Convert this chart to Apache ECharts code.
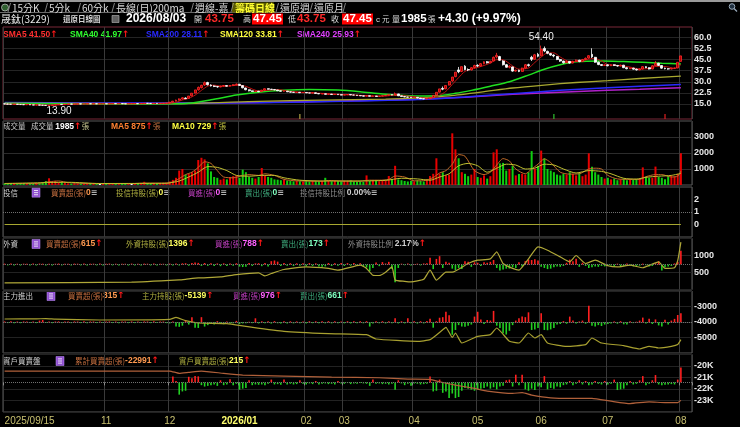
<!DOCTYPE html>
<html><head><meta charset="utf-8">
<script src="https://cdn.jsdelivr.net/npm/echarts@6/dist/echarts.min.js"></script>
<style>html,body{margin:0;padding:0;background:#000;}#c{width:740px;height:427px;}</style>
</head><body><div id="c"></div>
<script>
// ---------- calendar (trading days) ----------
const holidays = ['2025-10-06','2025-10-10','2025-10-24','2025-12-25','2026-01-01','2026-02-12','2026-02-13',
 '2026-02-16','2026-02-17','2026-02-18','2026-02-19','2026-02-20','2026-02-27','2026-04-03','2026-04-06','2026-05-01','2026-06-19'];
const firstDay = '2025-09-15', lastDay = '2026-08-03';

// ---------- price [open, close, low, high] ----------
const candles = [
[15.1,15.0,14.9,15.2],[15.0,14.9,14.8,15.1],[14.9,14.8,14.7,15.0],[14.8,14.9,14.7,15.0],[14.9,14.7,14.6,14.9],[14.7,14.6,14.5,14.8],[14.6,14.5,14.4,14.7],[14.5,14.6,14.4,14.7],[14.6,14.4,14.3,14.6],[14.4,14.3,14.2,14.5],
[14.3,14.4,14.2,14.5],[14.4,14.2,14.1,14.4],[14.2,14.1,14.0,14.3],[14.1,14.0,13.95,14.2],[14.0,14.1,13.9,14.2],[14.1,14.3,14.0,14.4],[14.3,14.6,14.2,14.7],[14.6,14.8,14.5,14.9],[14.8,14.7,14.6,14.9],[14.7,14.9,14.6,15.0],
[14.9,15.0,14.8,15.1],[15.0,14.9,14.8,15.1],[14.9,15.0,14.8,15.1],[15.0,15.1,14.9,15.2],[15.1,15.0,14.9,15.2],[15.0,15.1,14.9,15.2],[15.1,15.2,15.0,15.3],[15.2,15.1,15.0,15.3],[15.1,15.2,15.0,15.3],[15.2,15.1,15.0,15.3],
[15.1,15.1,15.0,15.2],[15.1,15.2,15.0,15.3],[15.2,15.1,15.0,15.3],[15.1,15.2,15.0,15.3],[15.2,15.3,15.1,15.4],[15.3,15.2,15.1,15.4],[15.2,15.3,15.1,15.4],[15.3,15.2,15.1,15.4],[15.2,15.1,15.0,15.3],[15.1,15.2,15.0,15.3],
[15.2,15.2,15.1,15.3],[15.2,15.3,15.1,15.4],[15.3,15.2,15.1,15.4],[15.2,15.3,15.1,15.4],[15.3,15.5,15.2,15.6],[15.5,15.4,15.3,15.6],[15.4,15.3,15.2,15.5],[15.3,15.4,15.2,15.5],[15.4,15.3,15.2,15.5],[15.3,15.4,15.2,15.5],
[15.4,15.5,15.3,15.6],[15.5,15.6,15.4,15.7],[15.6,16.2,15.5,16.4],[16.2,16.9,16.0,17.1],[16.9,17.6,16.8,17.9],[17.6,18.4,17.4,18.8],[18.4,19.2,18.1,19.6],[19.0,18.6,18.3,19.5],[18.8,20.4,18.6,20.4],[20.5,22.3,20.2,22.4],
[22.4,24.5,22.2,24.5],[24.6,26.2,24.0,26.8],[26.0,27.6,25.5,28.0],[27.8,29.4,27.2,30.2],[29.5,28.0,27.5,30.0],[27.8,27.2,26.8,28.3],[27.2,26.8,26.4,27.6],[26.8,26.5,26.0,27.2],[26.5,27.0,26.3,27.3],[27.0,27.4,26.8,27.8],
[27.4,27.0,26.8,27.6],[27.0,27.5,26.9,27.8],[27.5,28.0,27.3,28.4],[28.0,28.4,27.6,28.8],[28.3,27.5,27.2,28.6],[27.4,25.9,25.6,27.5],[25.8,24.6,24.3,26.0],[24.6,23.9,23.5,24.8],[23.9,23.4,23.1,24.1],[23.4,23.7,23.2,23.9],
[23.7,23.3,23.0,23.8],[23.4,24.3,23.3,24.6],[24.3,25.3,24.2,25.6],[25.3,25.0,24.8,25.5],[25.0,24.8,24.6,25.2],[24.8,24.5,24.3,25.0],[24.5,23.9,23.8,24.6],[23.9,23.6,23.4,24.0],[23.6,23.7,23.4,23.9],[23.7,23.2,23.1,23.8],
[23.2,23.0,22.8,23.3],[23.0,22.8,22.6,23.1],[22.8,22.9,22.7,23.1],[22.9,22.6,22.5,23.0],[22.6,22.8,22.5,22.9],[22.8,22.5,22.4,22.9],[22.5,22.4,22.3,22.6],[22.4,22.6,22.3,22.7],[22.6,22.1,22.0,22.7],[22.1,21.8,21.7,22.2],
[21.8,21.9,21.7,22.0],[21.9,21.5,21.4,22.0],[21.5,21.7,21.4,21.8],[21.7,21.4,21.3,21.8],[21.4,21.6,21.3,21.7],[21.6,21.3,21.2,21.7],[21.3,21.0,20.9,21.4],[21.0,21.2,20.9,21.3],[21.2,21.4,21.1,21.5],[21.4,21.1,21.0,21.5],
[21.1,21.0,20.9,21.2],[21.0,20.7,20.6,21.1],[20.7,20.5,20.4,20.8],[20.5,20.3,20.2,20.6],[20.3,20.6,20.2,20.9],[20.6,20.2,20.1,20.7],[20.2,20.4,20.1,20.5],[20.4,20.1,20.0,20.5],[20.1,20.3,20.0,20.4],[20.3,20.6,20.2,20.7],
[20.6,20.9,20.5,21.0],[20.9,21.3,20.8,21.5],[21.3,21.0,20.9,21.4],[21.0,21.8,20.9,22.8],[21.8,20.5,20.4,21.9],[20.5,20.0,19.9,20.6],[20.0,19.7,19.6,20.1],[19.7,19.6,19.5,19.8],[19.6,19.3,19.2,19.7],[19.3,19.5,19.2,19.6],
[19.5,19.0,18.9,19.6],[19.0,18.6,18.5,19.1],[18.6,18.4,18.3,18.7],[18.4,18.7,18.3,18.8],[18.7,19.3,18.6,19.5],[19.3,20.8,19.2,20.9],[20.9,22.9,20.8,22.9],[23.0,25.2,22.8,25.2],[25.5,25.0,24.3,26.8],[25.2,27.5,25.0,27.5],
[27.8,30.2,27.5,30.2],[30.5,33.2,30.0,33.2],[33.5,36.5,33.0,36.5],[38.0,36.8,35.8,40.0],[37.0,40.2,36.5,40.4],[40.5,38.2,37.8,41.2],[38.2,38.0,37.2,39.0],[38.0,39.5,37.6,39.8],[39.6,41.0,39.0,41.5],[41.0,40.6,40.0,41.8],
[40.6,42.2,40.2,42.5],[42.2,43.5,41.8,43.8],[43.5,42.8,42.3,44.0],[42.8,43.8,42.5,44.2],[44.0,46.5,43.8,47.0],[46.8,47.8,45.8,49.5],[47.0,44.5,44.0,47.5],[44.0,41.5,41.0,44.5],[41.5,39.8,39.5,42.0],[39.8,40.5,39.0,41.2],
[40.0,37.2,36.8,40.2],[37.2,37.8,36.8,38.2],[37.8,37.0,36.5,38.2],[37.0,39.2,36.8,39.5],[39.2,41.5,39.0,42.0],[41.5,41.0,40.2,42.2],[46.5,45.2,44.0,47.5],[45.2,48.2,45.0,48.8],[48.5,47.2,46.5,49.5],[47.5,52.0,47.2,54.4],
[52.5,50.8,50.0,53.8],[50.5,49.2,48.6,51.0],[49.0,48.0,47.5,49.5],[48.0,47.4,46.5,48.6],[47.0,45.0,44.6,47.4],[45.0,44.0,43.4,45.5],[44.0,42.8,42.3,44.2],[42.8,43.8,42.6,44.2],[43.8,42.6,42.2,44.0],[42.6,43.8,42.4,44.2],
[43.8,44.6,43.4,45.0],[44.6,43.6,43.2,44.8],[43.6,45.0,43.4,45.4],[45.0,45.8,44.6,46.4],[46.0,47.6,45.6,48.0],[48.5,46.8,46.0,52.6],[46.5,43.2,42.8,46.8],[43.2,41.6,41.2,43.6],[41.6,41.0,40.6,41.8],[41.0,41.4,40.6,41.8],
[41.4,40.8,40.4,41.6],[40.8,41.5,40.6,41.8],[41.5,41.0,40.6,41.8],[41.0,40.6,40.2,41.2],[40.6,41.2,40.4,41.6],[41.2,39.5,39.2,41.4],[39.5,38.8,38.4,39.8],[38.8,39.2,38.6,39.6],[39.2,38.5,38.2,39.4],[38.5,38.0,37.6,38.8],
[38.0,38.6,37.8,39.0],[38.6,40.2,38.4,40.6],[40.2,39.5,39.2,40.5],[39.5,38.6,38.3,39.8],[38.6,40.8,38.5,41.2],[40.8,42.5,40.6,44.0],[42.5,41.0,40.6,42.8],[41.0,39.2,38.8,41.2],[39.2,38.8,38.4,39.5],[38.8,38.6,38.2,39.2],
[38.6,39.1,38.4,39.4],[39.1,39.2,38.8,39.6],[39.3,43.15,39.2,43.15],[43.75,47.45,43.75,47.45]
];

// moving averages of price, read as [day index, value]
const sma5 = [[0,15.0],[4,14.86],[10,14.5],[14,14.2],[18,14.5],[22,14.9],[30,15.1],[40,15.2],[50,15.4],[52,15.5],[54,16.2],[56,17.7],[58,18.8],[60,21.0],[62,24.2],[64,27.1],[66,27.7],[68,27.1],[70,27.1],[72,27.4],[74,27.7],[76,26.9],[78,25.1],[80,23.8],[83,24.3],[86,24.7],[90,23.5],[95,22.7],[100,22.2],[105,21.5],[110,21.1],[115,20.5],[120,20.4],[123,21.0],[126,20.6],[130,19.6],[133,18.9],[135,19.2],[137,20.9],[139,23.5],[141,28.2],[143,32.8],[145,37.0],[147,38.5],[150,40.3],[153,42.6],[155,44.9],[157,44.8],[160,40.7],[162,38.5],[165,39.3],[167,43.0],[169,46.7],[171,49.5],[173,49.5],[175,46.7],[178,43.6],[181,43.7],[184,45.3],[186,45.7],[188,44.0],[190,41.6],[194,40.9],[197,39.9],[200,38.6],[203,39.0],[205,40.3],[207,40.4],[209,40.0],[211,39.0],[212,39.8],[213,41.5]];
const sma40 = [[0,15.3],[30,15.0],[52,15.1],[58,15.5],[65,17.8],[73,21.0],[80,23.0],[88,24.3],[96,24.8],[105,24.4],[112,23.3],[119,21.8],[126,20.8],[131,20.4],[136,20.5],[142,22.2],[147,24.2],[153,27.0],[159,30.0],[165,34.5],[170,38.5],[175,41.5],[180,43.5],[188,44.0],[195,43.6],[201,43.2],[207,42.5],[213,41.97]];
const sma200 = [[0,16.0],[50,15.6],[80,15.9],[110,17.0],[130,18.0],[145,19.8],[160,22.0],[175,24.2],[190,26.0],[200,27.0],[213,28.11]];
const sma120 = [[0,15.6],[40,15.3],[60,15.5],[80,16.8],[100,17.6],[120,18.3],[133,19.5],[140,20.5],[150,23.0],[160,25.8],[170,27.8],[180,29.5],[190,30.8],[200,32.2],[213,33.81]];
const sma240 = [[0,15.2],[50,15.4],[80,16.0],[110,17.2],[130,18.2],[145,19.6],[160,21.5],[175,23.0],[190,24.3],[200,25.0],[213,25.93]];

// ---------- volume (張) ----------
const volumes = [
90,80,100,70,90,110,80,70,100,90, 120,100,150,250,420,200,260,180,150,120,
100,90,110,80,100,90,120,80,100,70, 90,80,100,90,80,110,90,70,80,100,
90,80,110,100,200,120,90,100,80,110, 130,150,220,320,450,900,1000,650,700,800,
900,1560,1700,1600,1350,850,500,450,330,400, 350,500,550,600,450,960,800,500,450,400,
500,1060,600,500,450,350,330,300,320,280, 250,230,260,240,220,260,230,250,240,220,
260,450,250,230,260,240,220,250,260,300, 220,200,210,190,600,250,280,260,240,300,
280,560,350,1200,350,300,250,220,260,230, 300,250,220,350,560,700,1670,700,800,600,
650,3230,2230,1670,800,700,550,650,1000,500, 450,600,400,550,2040,2230,1350,1380,900,1000,
1200,600,690,700,650,800,2120,1000,1200,2150, 1670,1000,900,800,650,600,700,650,800,700,
600,750,550,650,1980,1140,800,650,500,400, 450,350,400,300,350,400,300,350,320,380,
400,1100,500,450,450,1150,500,450,360,550, 600,550,690,1985
];
const volMa5 = [[0,95],[10,95],[14,200],[17,250],[20,150],[25,100],[30,90],[40,90],[44,120],[48,120],[51,120],[53,200],[55,400],[57,650],[59,800],[61,1100],[63,1450],[65,1350],[67,900],[69,500],[72,450],[75,600],[77,650],[80,600],[82,700],[85,600],[88,350],[92,260],[100,240],[102,280],[106,250],[112,240],[115,300],[118,300],[121,350],[123,560],[126,500],[129,260],[132,270],[135,470],[137,750],[139,900],[141,1300],[143,1900],[145,1800],[148,900],[151,650],[153,800],[155,1250],[157,1650],[159,1500],[161,1000],[164,700],[166,1000],[168,1300],[170,1630],[172,1400],[175,800],[178,680],[181,700],[184,1000],[186,1050],[188,1000],[190,600],[193,380],[197,350],[200,350],[202,520],[205,650],[207,650],[210,500],[212,550],[213,875]];
const volMa10 = [[0,95],[14,150],[20,170],[30,95],[44,100],[51,110],[55,250],[58,500],[61,800],[64,1150],[67,1100],[70,900],[73,600],[77,550],[81,600],[85,600],[88,450],[93,300],[100,250],[110,250],[120,290],[125,420],[130,380],[134,300],[137,500],[140,700],[143,1200],[146,1350],[149,1200],[152,800],[155,1050],[158,1300],[161,1250],[164,1000],[167,1050],[170,1300],[173,1250],[176,1000],[180,750],[184,900],[188,850],[191,700],[195,420],[199,370],[202,480],[206,550],[210,600],[213,729]];

// ---------- 投信 ----------
const trustHold = [[0,0],[213,0]];

// ---------- 外資 ----------
const foreignNet = [
40,-35,45,-40,38,-42,40,36,-38,42, -40,44,38,-36,40,-42,38,45,-38,40,
36,-40,42,38,-36,44,-40,38,40,-36, 42,-38,40,44,-36,38,-42,40,36,-40,
44,-38,40,-36,42,38,-40,44,-38,40, 36,-40,44,-45,50,-42,55,60,-50,65,
90,75,-60,70,-55,60,-65,50,-70,55, -60,50,-55,60,-90,-110,-100,70,-60,55,
60,-70,65,-80,150,180,130,-60,70,-55, 60,-65,55,-50,60,-70,65,-60,55,-90,
-100,-80,70,-65,60,-55,70,-60,65,-50, 70,-65,60,-70,-130,-290,-150,90,-70,110,
50,120,-200,-780,-150,40,-30,50,-40,30, 40,-35,50,60,300,-200,250,370,-150,120,
80,-180,-250,-150,-200,150,120,-100,100,80, -60,100,80,120,200,-150,-260,-220,-180,-176,
-120,-150,100,-80,150,220,200,230,180,-100, -150,-200,-180,-120,-80,-100,-60,80,220,150,
260,-100,80,-60,-150,-120,-80,-100,-60,-80, -60,-40,-80,40,-70,-60,50,-40,-80,-60,
-50,40,-30,-80,-60,60,147,-264,-120,-80, -60,50,120,615
];
const foreignHold = [[0,194],[40,215],[55,282],[57,300],[61,340],[68,370],[73,440],[80,488],[82,400],[84,470],[88,588],[95,665],[102,620],[105,568],[112,715],[114,620],[116,420],[118,412],[120,510],[122,665],[123,280],[126,240],[128,224],[132,300],[134,568],[136,274],[139,510],[141,510],[146,764],[149,862],[153,900],[155,1106],[157,764],[160,620],[162,568],[165,900],[168,1253],[171,1156],[175,960],[178,813],[180,1000],[183,764],[186,862],[190,700],[193,665],[197,715],[201,640],[206,813],[208,620],[211,640],[212,850],[213,1396]];

// ---------- 主力 ----------
const mainNet = [
30,-28,32,-30,28,-32,30,29,-28,31, -30,60,80,-29,30,-31,29,32,-28,30,
29,-30,31,28,-29,32,-30,29,30,-28, 31,-29,30,32,-28,29,-31,30,28,-30,
32,-29,30,-28,31,29,-30,32,-29,30, 28,-30,
-40,30,-150,-160,-120,60,-80,180,-190,-200,180,-150,-100,
-60,-80,40,-50,-70,30,-40,-30,50,-60,-40,-30,20,-30,140,
-40,35,-38,32,-45,40,-35,-42,38,-40, 35,-38,32,-36,30,-40,38,-32,36,-38, 32,-36,40,-38,35,-32,30,-36,38,-40, 35,-32,38,-36,40,
-150,-45,40,-35,38,-40,35,-38,140,-40, 35,-38,140,-35,40,-45,38,-40,45,120,
-190,40,160,180,370,250,-440,-270,-100,-150,-160,-120,-80,200,370,
100,-60,80,60,400,-120,-200,-385,-430,-300,-100,60,140,200,180,350,-270,-250,-200,315,
-270,-280,-250,-200,-80,-60,40,-50,200,60,-40,30,60,-50,585,-120,-150,-100,-130,-80,
-60,-40,30,-50,40,-70,-80,40,-30,20,60,165,-40,120,-60,100,-110,-150,90,-80,60,120,257,315
];
const mainHold = [[0,-3806],[10,-3800],[13,-3780],[16,-3810],[30,-3870],[52,-3830],[54,-3700],[57,-3915],[61,-4065],[70,-4108],[76,-4280],[88,-4600],[102,-4750],[114,-4820],[117,-5096],[130,-5247],[134,-5140],[138,-4500],[139,-4344],[141,-5000],[142,-4710],[144,-5355],[149,-4925],[153,-4817],[155,-4387],[159,-5247],[162,-5355],[165,-4710],[167,-5032],[169,-4817],[171,-5355],[177,-5570],[183,-5462],[185,-5032],[188,-5355],[195,-5527],[200,-5742],[203,-5570],[206,-5677],[210,-5570],[212,-5450],[213,-5139]];

// ---------- 實戶 ----------
const retailNet = [
0,0,0,0,0,0,0,0,0,0, 0,0,0,0,0,0,0,0,0,0, 0,0,0,0,0,0,0,0,0,0, 0,0,0,0,0,0,0,0,0,0, 0,0,0,0,0,0,0,0,0,0, 0,0,0,
86,20,-176,-130,-120,80,60,90,86,-40,-60,-50,
-40,-30,-50,30,-40,-30,45,-40,-20,-105,-90,-80,30,-40,-30,
-35,-30,-40,-20,40,-30,-25,-35,40,-30, -20,-30,-25,30,-20,-30,-15,-25,20,-30, -20,-15,-25,-20,-30,20,-15,-20,-10,-25, -15,
-20,-10,-15,-20,-50,40,-20,-15,-25,-20, -30,-20,-105,30,-15,-40,-20,-50,-15,-20, -30,-25,-20,86,
-130,-120,40,-150,-130,-225,-160,-225,-210,-120,-80,-90,-105,-120,-100,
-90,-80,-60,-90,-70,-100,-60,-50,30,40,-60,110,-40,110,-100,-120,-90,-110,-60,-70,
90,-100,-80,-90,-60,-70,-40,-30,20,-40,-20,30,-30,20,-40,-30,20,-20,-30,20,
-30,-20,40,-110,-100,-90,-40,20,-30,-20,30,90,-40,-20,30,105,-30,-40,-35,-30,-25,-30,40,215
];
const retailCum = [[0,-20437],[52,-20437],[55,-20640],[58,-20550],[62,-20440],[69,-20640],[75,-20787],[88,-20875],[103,-20962],[118,-21020],[127,-21137],[134,-21165],[137,-21370],[142,-21662],[148,-21950],[152,-22180],[160,-22380],[163,-22320],[166,-22530],[172,-22765],[178,-22820],[185,-22820],[191,-23060],[197,-23265],[203,-23120],[208,-23180],[212,-23180],[213,-22991]];

// ---------- tick labels ----------
const priceTicks = [15, 22.5, 30, 37.5, 45, 52.5, 60];

// ================= build =================
const cats = [];
(function(){
  let t = Date.parse(firstDay + 'T00:00:00Z'); const end = Date.parse(lastDay + 'T00:00:00Z');
  while (t <= end) { const d = new Date(t); const w = d.getUTCDay(); const s = d.toISOString().slice(0,10);
    if (w !== 0 && w !== 6 && holidays.indexOf(s) < 0) cats.push(s); t += 86400000; }
})();
const nDays = cats.length;
cats.push('pad1','pad2','pad3');
const monthStart = new Set();
cats.forEach((c,i)=>{ if(i>=nDays) return; if(i===0){monthStart.add(0);return;}
  if(c.slice(0,7)!==cats[i-1].slice(0,7) && i>=20) monthStart.add(i); });
const isMonth = (i)=>monthStart.has(i);
const P = arr => arr.map(p=>[cats[p[0]], p[1]]);

const NUM = '"Liberation Sans", Arial, sans-serif';
const ARW = '"DejaVu Sans", sans-serif';
const CJK = '"Noto Sans CJK TC", "Noto Sans CJK SC", sans-serif';
const LBL = {color:'#e8e8e8', fontSize:9, fontWeight:'bold', fontFamily:NUM, margin:2};

const G = [[27,92,'#7a2838'],[121,64,'#5a5a5a'],[187,50,'#5a5a5a'],[238.5,51,'#5a5a5a'],[291,62,'#5a5a5a'],[354.5,57.5,'#5a5a5a']];

function xFmt(v,i){ if(i===0) return v.replace(/-/g,'/'); if(i>=nDays) return ''; const p=v.split('-'); if(p[1]==='01') return '{y|'+p[0]+'/01}'; return p[1]; }

const zeroLine = {symbol:'none', silent:true, label:{show:false}, lineStyle:{type:'dotted', color:'#707070', width:1}, data:[{yAxis:0}]};
const signColor = p => p.value>0 ? '#ff2020' : '#22d022';

function rt(x,y,parts){
  const rich={}; let s='';
  parts.forEach((p,i)=>{ const k='p'+i; rich[k]={fill:p[1],fontSize:p[2]||8,fontWeight:p[3]?'bold':'normal',fontFamily:p[4]||NUM}; s+='{'+k+'|'+p[0]+'}'; });
  return {type:'text',x:x,y:y,silent:true,style:{text:s,rich:rich,fill:'#ffffff',verticalAlign:'middle',align:'left'}};
}
function tx(x,y,t,color,size,bold,fam){ return {type:'text',x:x,y:y,silent:true,style:{text:t,fill:color,font:(bold?'bold ':'')+size+'px '+(fam||NUM),verticalAlign:'middle',align:'left'}}; }
function icon(x,y){ return [{type:'rect',shape:{x:x,y:y-4.5,width:8,height:9},style:{fill:'#9050d0',stroke:'#c090ff',lineWidth:0.5},silent:true},
  {type:'rect',shape:{x:x+2,y:y-2.5,width:4,height:0.8},style:{fill:'#fff'},silent:true},
  {type:'rect',shape:{x:x+2,y:y-0.4,width:4,height:0.8},style:{fill:'#fff'},silent:true},
  {type:'rect',shape:{x:x+2,y:y+1.7,width:4,height:0.8},style:{fill:'#fff'},silent:true}]; }

const UP='↑', EQ='≡';
const ARROW = [UP,'#ff1818',9,true,ARW];
const C = {net:['#c87040','#ff9a50'], hold:['#b0b040','#ffff60'], buy:['#c040c0','#ff60ff'], sell:['#40b080','#80ffc0'], pct:['#909090','#d0d0d0']};
function chip(x,y,label,val,col,mark){ return rt(x,y,[[label,col[0],7.5,false,CJK],[val,col[1],8.5,true],mark===UP?ARROW:[EQ,'#b0b0b0',8,true,ARW]]); }

const graphics = [];
// top bar + tabs
graphics.push({type:'rect',shape:{x:0,y:0,width:740,height:2},style:{fill:'#9a9a9a'},silent:true});
graphics.push({type:'line',shape:{x1:0,y1:12.5,x2:346,y2:12.5},style:{stroke:'#6a6a6a',lineWidth:1},silent:true});
graphics.push({type:'circle',shape:{cx:5,cy:7.5,r:3.5},style:{fill:'#2f5f2f',stroke:'#bbbbbb',lineWidth:0.8},silent:true});
graphics.push({type:'rect',shape:{x:232,y:2.5,width:42,height:10},style:{fill:'#5a5a00'},silent:true});
const tabPos = [[ '15分K',11],['5分k',48],['60分k',81],['長線(日)200ma',115],['週線-嘉',194],['籌碼日線',234],['還原週',279],['還原月',313]];
tabPos.forEach(t=>{
  graphics.push({type:'line',shape:{x1:t[1]-3,y1:12,x2:t[1]-0.5,y2:3},style:{stroke:'#a0a0a0',lineWidth:0.8},silent:true});
  graphics.push(tx(t[1]+1,7.8,t[0],t[0]==='籌碼日線'?'#ffff30':'#dcdcdc',10,t[0]==='籌碼日線',CJK));
});
graphics.push({type:'line',shape:{x1:343,y1:12,x2:345.5,y2:3},style:{stroke:'#a0a0a0',lineWidth:0.8},silent:true});
graphics.push({type:'circle',shape:{cx:732,cy:6.5,r:2.8},style:{fill:'#203040',stroke:'#9ab',lineWidth:1},silent:true});
graphics.push({type:'line',shape:{x1:734,y1:8.5,x2:737,y2:11.5},style:{stroke:'#9ab',lineWidth:1.2},silent:true});
// header row
graphics.push(tx(1,19,'晟鈦(3229)','#e6e6e6',10,false,CJK));
graphics.push(tx(63,19,'還原日線圖','#d8d8d8',7.5,true,CJK));
graphics.push({type:'rect',shape:{x:112,y:15.5,width:7,height:7},style:{fill:'#606060',stroke:'#bbbbbb',lineWidth:0.6},silent:true});
graphics.push(tx(126,19,'2026/08/03','#ffffff',12,true));
graphics.push(tx(194,19,'開','#dcdcdc',8,false,CJK));
graphics.push(tx(205,19,'43.75','#ff2a2a',11.5,true));
graphics.push(tx(243,19,'高','#dcdcdc',8,false,CJK));
graphics.push({type:'rect',shape:{x:252,y:13.5,width:31,height:11},style:{fill:'#ff0000'},silent:true});
graphics.push(tx(253,19,'47.45','#ffffff',11.5,true));
graphics.push(tx(288,19,'低','#dcdcdc',8,false,CJK));
graphics.push(tx(297,19,'43.75','#ff2a2a',11.5,true));
graphics.push(tx(331,19,'收','#dcdcdc',8,false,CJK));
graphics.push({type:'rect',shape:{x:342,y:13.5,width:31,height:11},style:{fill:'#ff0000'},silent:true});
graphics.push(tx(343,19,'47.45','#ffffff',11.5,true));
graphics.push(tx(376,19.5,'c','#dcdcdc',8,false));
graphics.push(tx(382,19,'元','#dcdcdc',7.5,false,CJK));
graphics.push(tx(392,19,'量','#dcdcdc',8,false,CJK));
graphics.push(tx(401,19,'1985','#ffffff',11.5,true));
graphics.push(tx(428,19,'張','#dcdcdc',7.5,false,CJK));
graphics.push(tx(438,19,'+4.30 (+9.97%)','#ffffff',12,true));
// price legend
graphics.push(rt(3,34.5,[['SMA5 41.50','#ff3030',8.5,true],ARROW]));
graphics.push(rt(70,34.5,[['SMA40 41.97','#30ff30',8.5,true],ARROW]));
graphics.push(rt(146,34.5,[['SMA200 28.11','#2a2aff',8.5,true],ARROW]));
graphics.push(rt(220,34.5,[['SMA120 33.81','#ffff40',8.5,true],ARROW]));
graphics.push(rt(297,34.5,[['SMA240 25.93','#e040ff',8.5,true],ARROW]));
// volume legend
graphics.push(tx(3,126.5,'成交量','#c8c8c8',7.5,false,CJK));
graphics.push(rt(31,126.5,[['成交量 ','#d0d0d0',7.5,false,CJK],['1985','#ffffff',8.5,true],ARROW,['張','#c8c890',7.5,false,CJK]]));
graphics.push(rt(111,126.5,[['MA5 875','#ff8030',8.5,true],ARROW,['張','#c07040',7.5,false,CJK]]));
graphics.push(rt(172,126.5,[['MA10 729','#ffff40',8.5,true],ARROW,['張','#c0c040',7.5,false,CJK]]));
// 投信
graphics.push(tx(3,192.7,'投信','#d0d0d0',7.5,false,CJK));
graphics.push(...icon(32,192.7));
graphics.push(chip(51,192.7,'買賣超(張)','0',C.net,EQ));
graphics.push(chip(116,192.7,'投信持股(張)','0',C.hold,EQ));
graphics.push(chip(188,192.7,'買進(張)','0',C.buy,EQ));
graphics.push(chip(245,192.7,'賣出(張)','0',C.sell,EQ));
graphics.push(chip(300,192.7,'投信持股比例 ','0.00%',C.pct,EQ));
// 外資
graphics.push(tx(3,244,'外資','#d0d0d0',7.5,false,CJK));
graphics.push(...icon(32,244));
graphics.push(chip(46,244,'買賣超(張)','615',C.net,UP));
graphics.push(chip(126,244,'外資持股(張)','1396',C.hold,UP));
graphics.push(chip(215,244,'買進(張)','788',C.buy,UP));
graphics.push(chip(281,244,'賣出(張)','173',C.sell,UP));
graphics.push(chip(348,244,'外資持股比例 ','2.17%',C.pct,UP));
// 主力
graphics.push(tx(3,296,'主力進出','#d0d0d0',7.5,false,CJK));
graphics.push(...icon(47,296));
graphics.push(chip(68,296,'買賣超(張)','315',C.net,UP));
graphics.push(chip(142,296,'主力持股(張)','-5139',C.hold,UP));
graphics.push(chip(233,296,'買進(張)','976',C.buy,UP));
graphics.push(chip(300,296,'賣出(張)','661',C.sell,UP));
// 實戶
graphics.push(tx(3,361,'實戶買賣盤','#d0d0d0',7.5,false,CJK));
graphics.push(...icon(56,361));
graphics.push(chip(75,361,'累計買賣超(張)','-22991',C.net,UP));
graphics.push(chip(179,361,'實戶買賣超(張)','215',C.hold,UP));

const plain = v => String(v);
const yAxis = [
  {gridIndex:0,position:'right',min:4.88,max:66.95,axisLine:{show:false},axisTick:{show:false,customValues:priceTicks},
   axisLabel:Object.assign({customValues:priceTicks,formatter:v=>v.toFixed(1)},LBL),splitLine:{show:true,lineStyle:{color:'#242424'}}},
  {gridIndex:1,position:'right',min:0,max:4000,interval:1000,axisLine:{show:false},axisTick:{show:false},
   axisLabel:Object.assign({showMinLabel:false,showMaxLabel:false,formatter:plain},LBL),splitLine:{show:true,lineStyle:{color:'#2c2c2c'}}},
  {gridIndex:2,position:'right',min:-1,max:3,interval:1,axisLine:{show:false},axisTick:{show:false},
   axisLabel:Object.assign({showMinLabel:false,showMaxLabel:false,formatter:plain},LBL),splitLine:{show:false}},
  {gridIndex:3,position:'right',min:0,max:1500,interval:500,axisLine:{show:false},axisTick:{show:false},
   axisLabel:Object.assign({showMinLabel:false,showMaxLabel:false,formatter:plain},LBL),splitLine:{show:true,lineStyle:{color:'#222'}}},
  {gridIndex:3,show:false,min:-1100,max:1150},
  {gridIndex:4,position:'right',min:-6000,max:-2000,interval:1000,axisLine:{show:false},axisTick:{show:false},
   axisLabel:Object.assign({showMinLabel:false,showMaxLabel:false,formatter:plain},LBL),splitLine:{show:true,lineStyle:{color:'#222'}}},
  {gridIndex:4,show:false,min:-1080,max:1100},
  {gridIndex:5,position:'right',min:-24000,max:-19000,interval:1000,axisLine:{show:false},axisTick:{show:false},
   axisLabel:Object.assign({showMinLabel:false,showMaxLabel:false,formatter:v=>(v/1000)+'K'},LBL),splitLine:{show:true,lineStyle:{color:'#222'}}},
  {gridIndex:5,show:false,min:-425,max:400}
];

const line = (name,x,y,data,color,w,extra)=>Object.assign({type:'line',name:name,xAxisIndex:x,yAxisIndex:y,data:P(data),showSymbol:false,symbol:'none',
  smooth:0.25,silent:true,lineStyle:{color:color,width:w},z:3},extra||{});

const option = {
  backgroundColor:'#000',
  animation:false,
  grid: G.map(g=>({left:3,width:689,top:g[0],height:g[1],show:true,borderColor:g[2],borderWidth:1,backgroundColor:'transparent'})),
  xAxis: G.map((g,i)=>({type:'category',gridIndex:i,data:cats,boundaryGap:true,axisLine:{show:false},
    axisTick:{show:i===5,interval:isMonth,length:3,lineStyle:{color:'#8a8a8a'}},
    axisLabel:{show:i===5,interval:isMonth,formatter:xFmt,color:'#c8c070',fontSize:10,fontFamily:NUM,margin:4,alignMinLabel:'left',
      rich:{y:{color:'#ffff70',fontWeight:'bold',fontSize:10,fontFamily:NUM}}},
    splitLine:{show:true,interval:isMonth,lineStyle:{color:'#3a3a3a',width:1}}})),
  yAxis: yAxis,
  series: [
    {type:'candlestick',name:'K',xAxisIndex:0,yAxisIndex:0,data:candles,barWidth:2.4,silent:true,z:4,
     itemStyle:{color:'#b00000',color0:'#ffffff',borderColor:'#ff2a2a',borderColor0:'#ffffff',borderWidth:0.8},
     markPoint:{silent:true,animation:false,data:[
       {coord:[cats[169],54.4],symbol:'circle',symbolSize:0.1,label:{show:true,formatter:'54.40',position:'top',distance:3,color:'#f0f0f0',fontSize:10,fontFamily:NUM}},
       {coord:[cats[14],13.9],symbol:'circle',symbolSize:0.1,label:{show:true,formatter:'13.90',position:'bottom',offset:[10,0],distance:1,color:'#f0f0f0',fontSize:10,fontFamily:NUM}},
       {coord:[cats[93],6.6],symbol:'rect',symbolSize:[1.2,5],itemStyle:{color:'#b0a040'},label:{show:false}},
       {coord:[cats[173],6.6],symbol:'rect',symbolSize:[1.2,5],itemStyle:{color:'#30c030'},label:{show:false}},
       {coord:[cats[208],6.6],symbol:'rect',symbolSize:[1.2,5],itemStyle:{color:'#e02020'},label:{show:false}}
     ]}},
    line('SMA240',0,0,sma240,'#b020c8',1.5),
    line('SMA200',0,0,sma200,'#2a2aff',1.5),
    line('SMA120',0,0,sma120,'#a8a830',1.3),
    line('SMA40',0,0,sma40,'#20e020',1.5),
    line('SMA5',0,0,sma5,'#c01010',1),
    {type:'bar',xAxisIndex:1,yAxisIndex:1,silent:true,barWidth:2,
     data:volumes.map((v,i)=>({value:v,itemStyle:{color:candles[i][1]>candles[i][0]?'#e80000':(candles[i][1]<candles[i][0]?'#10d010':'#ffffff')}}))},
    line('VMA5',1,1,volMa5,'#c06a28',1),
    line('VMA10',1,1,volMa10,'#c0c030',1),
    line('trust',2,2,trustHold,'#a8a830',1.2,{smooth:false,markLine:Object.assign({},zeroLine,{data:[{yAxis:1}]})}),
    {type:'bar',xAxisIndex:3,yAxisIndex:4,silent:true,barWidth:1.6,data:foreignNet,itemStyle:{color:signColor},markLine:zeroLine},
    line('fHold',3,3,foreignHold,'#b0a838',1.2,{smooth:0.15}),
    {type:'bar',xAxisIndex:4,yAxisIndex:6,silent:true,barWidth:1.6,data:mainNet,itemStyle:{color:signColor},markLine:zeroLine},
    line('mHold',4,5,mainHold,'#a8a030',1.2,{smooth:0.15}),
    {type:'bar',xAxisIndex:5,yAxisIndex:8,silent:true,barWidth:1.6,data:retailNet,itemStyle:{color:signColor},markLine:zeroLine},
    line('rCum',5,7,retailCum,'#b0603a',1.2,{smooth:0.15})
  ],
  graphic: graphics
};
const chart = echarts.init(document.getElementById('c'), null, {renderer:'canvas'});
chart.setOption(option);
</script>
</body></html>
